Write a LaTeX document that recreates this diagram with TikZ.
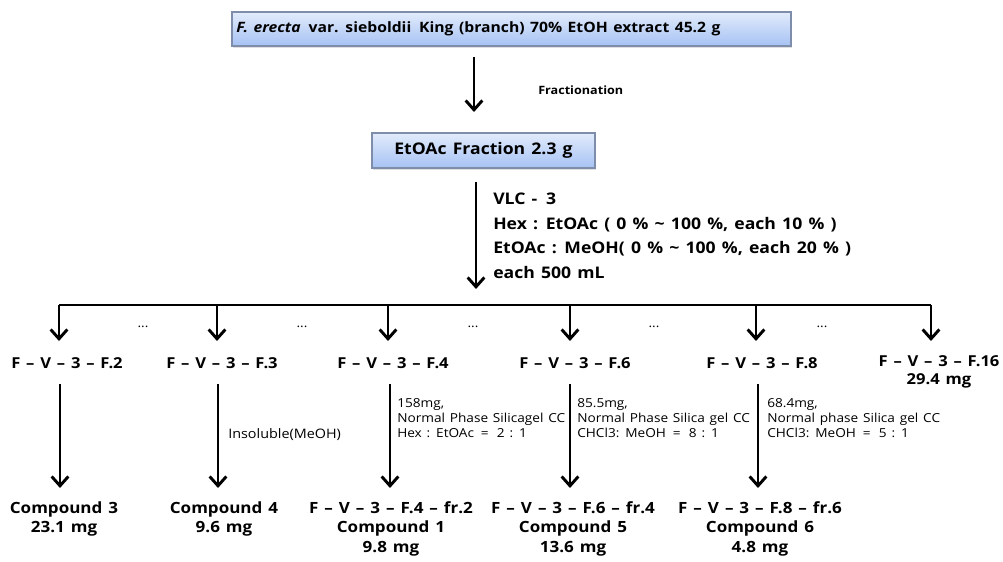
\documentclass[tikz,border=0pt]{standalone}
\usepackage{fontspec}
\setmainfont{Open Sans}[FakeStretch=1.1,WordSpace=1.35]
\usetikzlibrary{arrows.meta,shadows}
\definecolor{boxtop}{HTML}{E2EBFB}
\definecolor{boxbot}{HTML}{A6C2F4}
\definecolor{boxline}{HTML}{7D8DAA}
\newcommand{\ftop}{\fontsize{10.7pt}{12pt}\selectfont\bfseries}
\newcommand{\flab}{\fontsize{11.3pt}{13pt}\selectfont\bfseries}
\newcommand{\fcomp}{\fontsize{11.6pt}{14.6pt}\selectfont\bfseries}
\newcommand{\fvlc}{\fontsize{12pt}{18.4pt}\selectfont\bfseries}
\newcommand{\fnote}{\fontsize{9.3pt}{11.2pt}\selectfont}
\begin{document}
\begin{tikzpicture}[x=0.75pt,y=-0.75pt,
  box/.style={draw=boxline,line width=0.9pt,top color=boxtop,bottom color=boxbot,
    drop shadow={opacity=0.25,shadow xshift=1pt,shadow yshift=-1.2pt}},
  arr/.style={line width=2.2pt,-{Straight Barb[length=7pt,width=12.5pt,line width=2.2pt]}},
  ln/.style={line width=2.2pt},
  lab/.style={inner sep=0pt,font=\flab},
  comp/.style={inner sep=0pt,align=center,font=\fcomp,anchor=north},
  note/.style={inner sep=0pt,align=left,font=\fnote,anchor=west},
  dots/.style={inner sep=0pt,font=\fnote}]
\useasboundingbox (0,0) rectangle (1003,561);
% boxes
\node[box,minimum width=419.25pt,minimum height=25.5pt,inner sep=0pt] (top) at (511.5,29) {};
\node[anchor=west,inner sep=0pt,font=\ftop] (toptext) at (236,29) {\textit{F. erecta}\, var. sieboldii\, King (branch) 70\% EtOH extract 45.2 g};
\node[box,minimum width=167.25pt,minimum height=26.25pt,inner sep=0pt,font=\fontsize{12pt}{13pt}\selectfont\bfseries] (etoac) at (483.5,150.5) {EtOAc Fraction 2.3 g};
% fractionation arrow
\coordinate (a1s) at (474,57);
\coordinate (a1e) at (474,112);
\draw[arr] (a1s) -- (a1e);
\node[anchor=west,inner sep=0pt,font=\fontsize{8.6pt}{12pt}\selectfont\bfseries] (fract) at (538,90) {Fractionation};
% VLC arrow
\coordinate (a2s) at (476,182);
\coordinate (a2e) at (476,289);
\draw[arr] (a2s) -- (a2e);
\node[anchor=north west,inner sep=0pt,align=left,font=\fvlc] (vlc) at (493,193) {VLC - \,3\\Hex : EtOAc ( 0 \% \textasciitilde\ 100 \%, each 10 \% )\\EtOAc : MeOH( 0 \% \textasciitilde\ 100 \%, each 20 \% )\\each 500 mL};
% bus
\coordinate (bl) at (59,305);
\coordinate (br) at (931,305);
\draw[ln] (bl) -- (br);
\foreach \x/\n in {59/b2,217/b3,388/b4,570/b6,756/b8,931/b16}{
  \coordinate (\n) at (\x,305);
  \coordinate (\n e) at (\x,341);
  \draw[arr] (\n) -- (\n e);
}
\foreach \x/\n in {143/d1,302/d2,473/d3,654/d4,822/d5}{
  \node[dots] (\n) at (\x,327) {...};
}
% fraction labels
\node[lab] (f2) at (67,363) {F – V – 3 – F.2};
\node[lab] (f3) at (222,363) {F – V – 3 – F.3};
\node[lab] (f4) at (393,363) {F – V – 3 – F.4};
\node[lab] (f6) at (575,363) {F – V – 3 – F.6};
\node[lab] (f8) at (762,363) {F – V – 3 – F.8};
\node[lab,align=center,anchor=north,font=\fontsize{11.3pt}{13.5pt}\selectfont\bfseries] (f16) at (939,355) {F – V – 3 – F.16\\29.4 mg};
% second level arrows
\foreach \x/\n in {60/c2,218/c3,390/c4,570/c6,758/c8}{
  \coordinate (\n) at (\x,384);
  \coordinate (\n e) at (\x,488);
  \draw[arr] (\n) -- (\n e);
}
% notes
\node[note,font=\fontsize{9.8pt}{11.2pt}\selectfont] (n3) at (228,435) {Insoluble(MeOH)};
\node[note,anchor=north west] (n4) at (397,398) {158mg,\\Normal Phase Silicagel CC\\Hex : EtOAc \,= \;2 : 1};
\node[note,anchor=north west] (n6) at (577,398) {85.5mg,\\Normal Phase Silica gel CC\\CHCl3: MeOH \,= \;8 : 1};
\node[note,anchor=north west] (n8) at (767,398) {68.4mg,\\Normal phase Silica gel CC\\CHCl3: MeOH \,= \;5 : 1};
% products
\node[comp] (p3) at (64,501) {Compound 3\\23.1 mg};
\node[comp] (p4) at (224,501) {Compound 4\\9.6 mg};
\node[comp] (p1) at (391,501) {F – V – 3 – F.4 – fr.2\\Compound 1\\9.8 mg};
\node[comp] (p5) at (573,501) {F – V – 3 – F.6 – fr.4\\Compound 5\\13.6 mg};
\node[comp] (p6) at (760,501) {F – V – 3 – F.8 – fr.6\\Compound 6\\4.8 mg};
\end{tikzpicture}
\end{document}
